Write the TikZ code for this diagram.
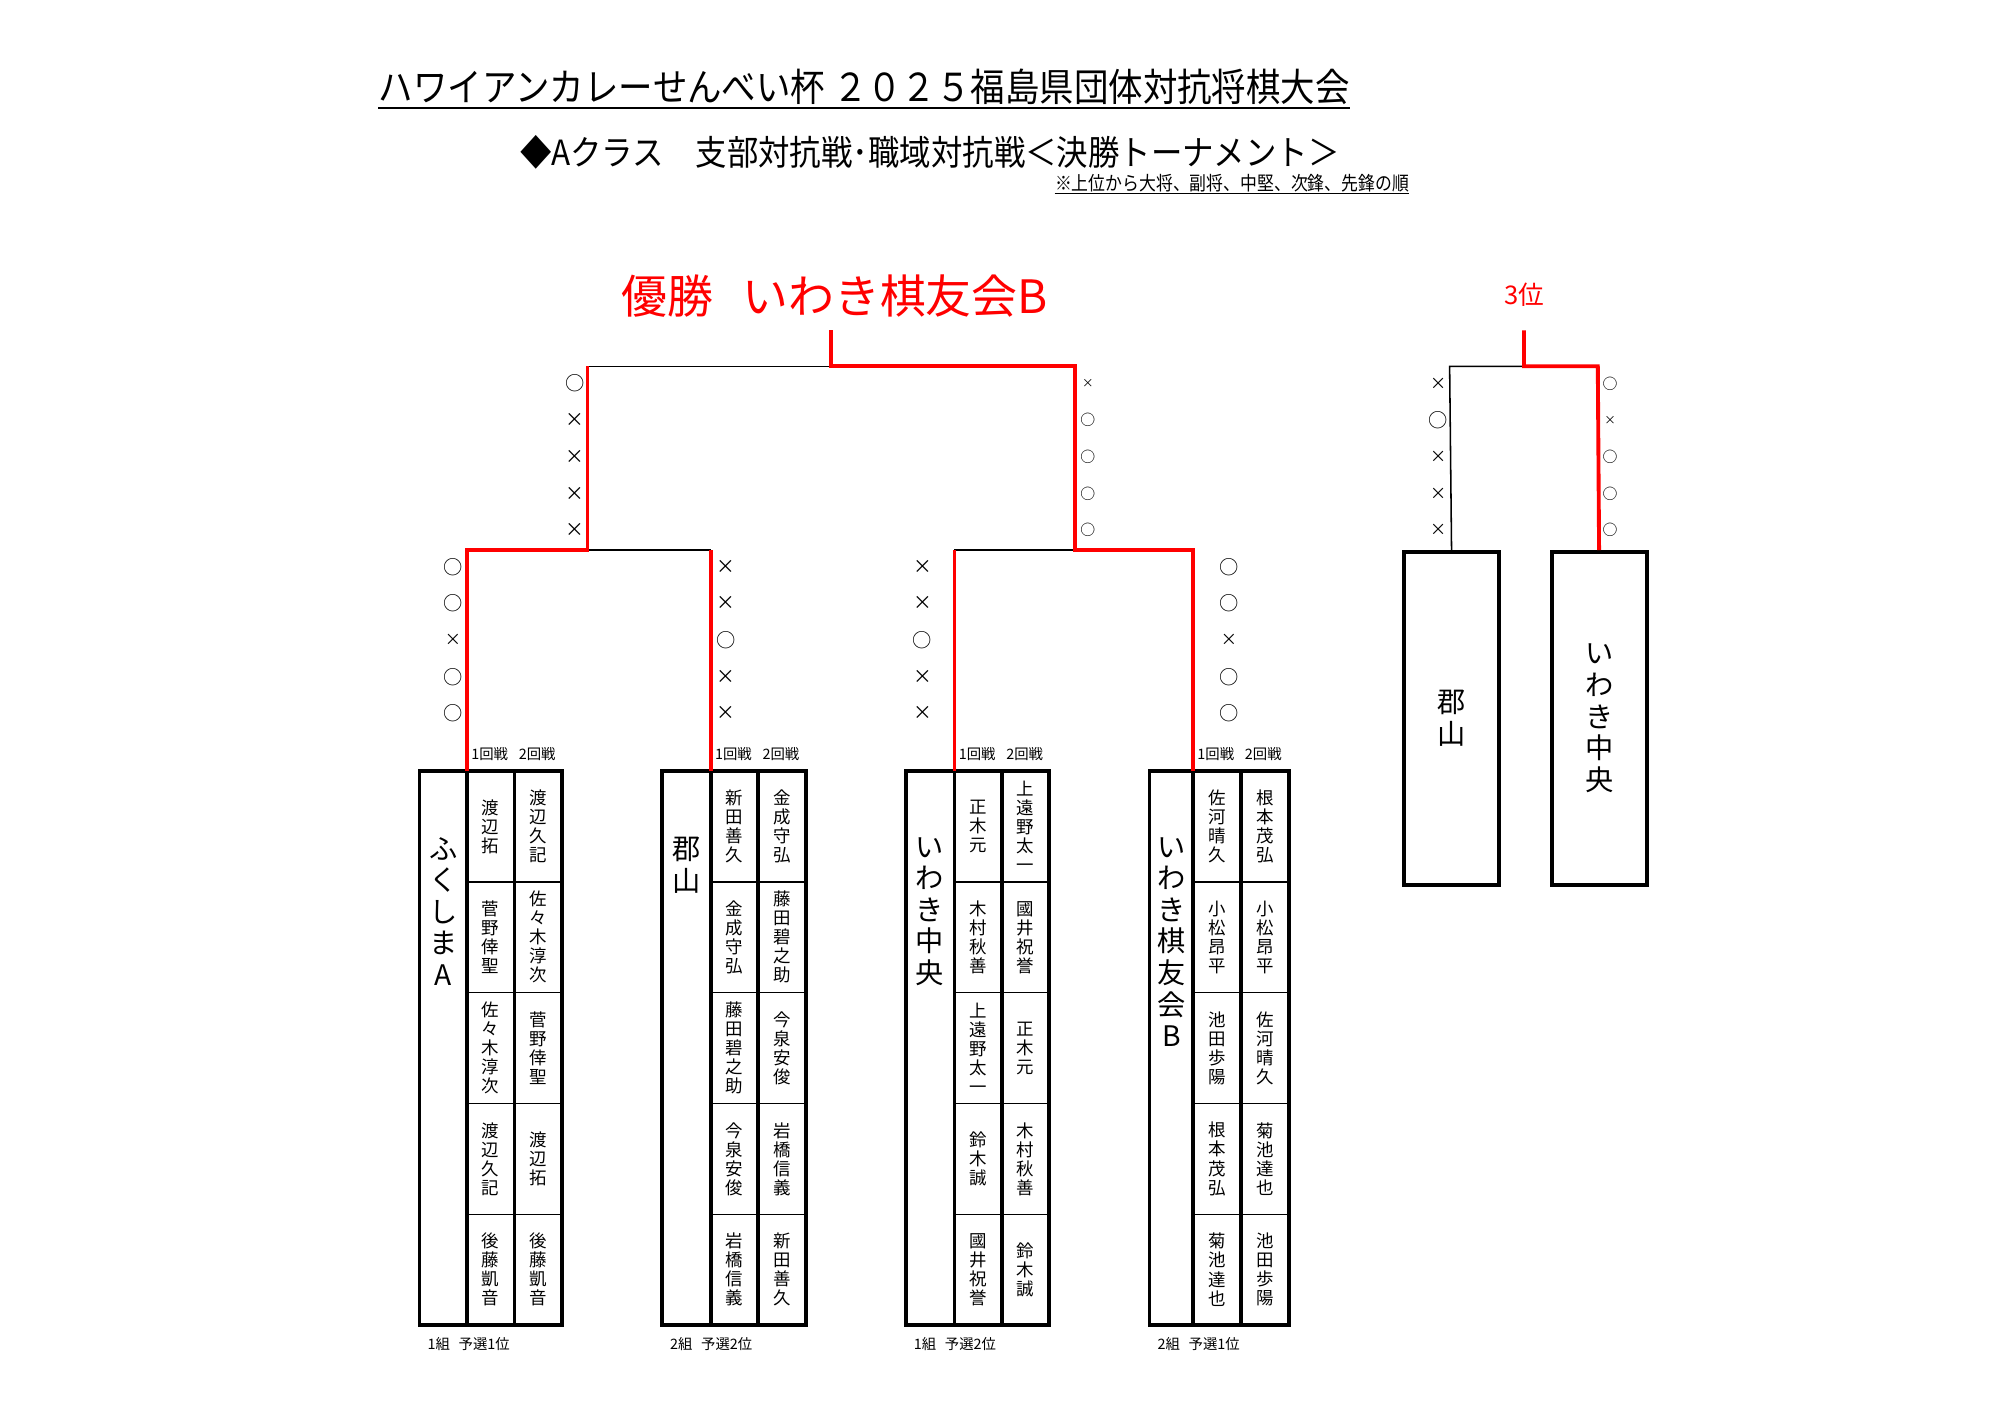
\documentclass[tikz,border=0pt]{standalone}
\usepackage{fontspec}
\setmainfont{Noto Sans CJK JP}
\newcommand\fs[2]{\fontsize{#1}{#2}\selectfont}
\begin{document}
\begin{tikzpicture}[x=0.5pt,y=-0.5pt,
  bl/.style={line width=0.6pt, black},
  rd/.style={line width=1.5pt, red},
  frame/.style={line width=1.5pt},
  rowline/.style={line width=0.5pt},
  pname/.style={align=center, inner sep=0pt, font=\fs{6.8}{7.4}},
  tname/.style={align=center, inner sep=0pt, font=\fs{11}{12.3}},
  lab/.style={inner sep=0pt, anchor=west, font=\fs{5.6}{6}},
  bo/.style={inner sep=0pt, font=\fs{7.5}{7.5}},
  so/.style={inner sep=0pt, font=\fs{5.8}{5.8}},
  nx/.style={inner sep=0pt, font=\fs{7.3}{7.3}},
  sx/.style={inner sep=0pt, font=\fs{6.3}{6.3}},
  tx/.style={inner sep=0pt, font=\fs{4.5}{4.5}},
  thbox/.style={draw, line width=1.5pt, minimum width=37pt, minimum height=129.5pt, anchor=north west, align=center, inner sep=0pt, font=\fs{11}{12.3}}
]
\useasboundingbox (0,0) rectangle (1560,1099);
\begin{scope}[xscale=0.9942, yscale=0.996, transform shape]

% ---------- headings ----------
\node[anchor=base west, inner sep=0pt, xscale=0.895, font=\fs{15}{15}] (title) at (295,79)
  {ハワイアンカレーせんべい杯 ２０２５福島県団体対抗将棋大会};
\draw[line width=0.8pt] ([yshift=-2.5pt]title.base west) -- ([yshift=-2.5pt]title.base east);
\node[anchor=base west, inner sep=0pt, xscale=0.907, font=\fs{13.5}{13.5}] (sub) at (405,129)
  {◆Aクラス　支部対抗戦･職域対抗戦＜決勝トーナメント＞};
\node[anchor=base west, inner sep=0pt, xscale=0.876, font=\fs{7.5}{7.5}] (note) at (822,148)
  {※上位から大将、副将、中堅、次鋒、先鋒の順};
\draw[line width=0.5pt] ([yshift=-1.3pt]note.base west) -- ([yshift=-1.3pt]note.base east);

\node[anchor=base west, inner sep=0pt, text=red, font=\fs{17.9}{17.9}] (champ) at (484,244)
  {優勝\hspace{0.63em}いわき棋友会B};
\node[anchor=base, inner sep=0pt, text=red, font=\fs{10}{10}] (third) at (1188,237) {3位};

% ---------- team tables ----------
\newcommand\teamgrid[4]{%
  \draw[frame] (#1,600) rectangle (#4,1031);
  \draw[frame] (#2,600) -- (#2,1031) (#3,600) -- (#3,1031);
  \foreach \yy in {686.2,772.4,858.6,944.8} \draw[rowline] (#2,\yy) -- (#4,\yy);
}
\newcommand\pl[4]{\node[pname] (#1) at (#2,{643.1+86.2*(#3-1)}) {#4};}

% ふくしまA
\teamgrid{327}{364}{401}{438}
\node[tname, anchor=north] (nA) at (345.5,651) {ふ\\く\\し\\ま\\A};
\pl{a11}{382.5}{1}{渡\\辺\\拓}
\pl{a12}{382.5}{2}{菅\\野\\倖\\聖}
\pl{a13}{382.5}{3}{佐\\々\\木\\淳\\次}
\pl{a14}{382.5}{4}{渡\\辺\\久\\記}
\pl{a15}{382.5}{5}{後\\藤\\凱\\音}
\pl{a21}{419.5}{1}{渡\\辺\\久\\記}
\pl{a22}{419.5}{2}{佐\\々\\木\\淳\\次}
\pl{a23}{419.5}{3}{菅\\野\\倖\\聖}
\pl{a24}{419.5}{4}{渡\\辺\\拓}
\pl{a25}{419.5}{5}{後\\藤\\凱\\音}
\node[lab] (rA1) at (367,587) {1回戦};
\node[lab] (rA2) at (404,587) {2回戦};
\node[lab] (qA) at (333,1046) {1組\hspace{0.6em}予選1位};

% 郡山
\teamgrid{516}{554}{591}{628}
\node[tname, anchor=north] (nK) at (535,651) {郡\\山};
\pl{k11}{572.5}{1}{新\\田\\善\\久}
\pl{k12}{572.5}{2}{金\\成\\守\\弘}
\pl{k13}{572.5}{3}{藤\\田\\碧\\之\\助}
\pl{k14}{572.5}{4}{今\\泉\\安\\俊}
\pl{k15}{572.5}{5}{岩\\橋\\信\\義}
\pl{k21}{609.5}{1}{金\\成\\守\\弘}
\pl{k22}{609.5}{2}{藤\\田\\碧\\之\\助}
\pl{k23}{609.5}{3}{今\\泉\\安\\俊}
\pl{k24}{609.5}{4}{岩\\橋\\信\\義}
\pl{k25}{609.5}{5}{新\\田\\善\\久}
\node[lab] (rK1) at (557,587) {1回戦};
\node[lab] (rK2) at (594,587) {2回戦};
\node[lab] (qK) at (522,1046) {2組\hspace{0.6em}予選2位};

% いわき中央
\teamgrid{706}{744}{781}{818}
\node[tname, anchor=north] (nC) at (725,651) {い\\わ\\き\\中\\央};
\pl{c11}{762.5}{1}{正\\木\\元}
\pl{c12}{762.5}{2}{木\\村\\秋\\善}
\pl{c13}{762.5}{3}{上\\遠\\野\\太\\一}
\pl{c14}{762.5}{4}{鈴\\木\\誠}
\pl{c15}{762.5}{5}{國\\井\\祝\\誉}
\pl{c21}{799.5}{1}{上\\遠\\野\\太\\一}
\pl{c22}{799.5}{2}{國\\井\\祝\\誉}
\pl{c23}{799.5}{3}{正\\木\\元}
\pl{c24}{799.5}{4}{木\\村\\秋\\善}
\pl{c25}{799.5}{5}{鈴\\木\\誠}
\node[lab] (rC1) at (747,587) {1回戦};
\node[lab] (rC2) at (784,587) {2回戦};
\node[lab] (qC) at (712,1046) {1組\hspace{0.6em}予選2位};

% いわき棋友会B
\teamgrid{896}{930}{967}{1005}
\node[tname, anchor=north] (nB) at (913,651) {い\\わ\\き\\棋\\友\\会\\B};
\pl{b11}{948.5}{1}{佐\\河\\晴\\久}
\pl{b12}{948.5}{2}{小\\松\\昂\\平}
\pl{b13}{948.5}{3}{池\\田\\歩\\陽}
\pl{b14}{948.5}{4}{根\\本\\茂\\弘}
\pl{b15}{948.5}{5}{菊\\池\\達\\也}
\pl{b21}{986}{1}{根\\本\\茂\\弘}
\pl{b22}{986}{2}{小\\松\\昂\\平}
\pl{b23}{986}{3}{佐\\河\\晴\\久}
\pl{b24}{986}{4}{菊\\池\\達\\也}
\pl{b25}{986}{5}{池\\田\\歩\\陽}
\node[lab] (rB1) at (933,587) {1回戦};
\node[lab] (rB2) at (970,587) {2回戦};
\node[lab] (qB) at (902,1046) {2組\hspace{0.6em}予選1位};

% ---------- main bracket ----------
\coordinate (tA) at (364,600);  \coordinate (sA) at (364,428);
\coordinate (tK) at (554,600);  \coordinate (sK) at (554,428);
\coordinate (tC) at (744,600);  \coordinate (sC) at (744,428);
\coordinate (tB) at (930,600);  \coordinate (sB) at (930,428);
\coordinate (fL) at (458,428);  \coordinate (fLt) at (458,285);
\coordinate (fR) at (838,428);  \coordinate (fRt) at (838,285);
\coordinate (win) at (648,285); \coordinate (wtop) at (648,257);

\draw[bl] (fL) -- (sK);
\draw[bl] (sC) -- (fR);
\draw[bl] (fLt) -- (win);
\draw[rd] (tK) -- (sK);
\draw[rd] (tC) -- (sC);
\draw[rd] (tA) -- (sA) -- (fL) -- (fLt);
\draw[rd] (wtop) -- (win) -- (fRt) -- (fR) -- (sB) -- (tB);

% ---------- third place ----------
\node[thbox] (thK) at (1093,428) {郡\\山};
\node[thbox] (thC) at (1208,428) {い\\わ\\き\\中\\央};
\coordinate (g1t) at (1130,285);
\coordinate (g2t) at (1245.5,285);
\coordinate (tw) at (1188,285);
\coordinate (twt) at (1188,257);
\draw[bl] (thK.north) -- (g1t) -- (tw);
\draw[rd] (twt) -- (tw) -- (g2t) -- (thC.north);

% ---------- marks ----------
\newcommand\markcol[4]{%
  \foreach \s/\c [count=\i] in {#4}
    \node[\s] (#1\i) at (#2,{#3+28.5*(\i-1)}) {\c};
}
\markcol{mFL}{448}{298.5}{bo/○,nx/×,nx/×,nx/×,nx/×}
\markcol{mFR}{848}{298.5}{tx/×,so/○,so/○,so/○,so/○}
\markcol{mSA}{353}{441}{bo/○,bo/○,sx/×,bo/○,bo/○}
\markcol{mSK}{566}{441}{nx/×,nx/×,bo/○,nx/×,nx/×}
\markcol{mSC}{719}{441}{nx/×,nx/×,bo/○,nx/×,nx/×}
\markcol{mSB}{958}{441}{bo/○,bo/○,sx/×,bo/○,bo/○}
\markcol{mTL}{1121}{298.5}{sx/×,bo/○,sx/×,sx/×,sx/×}
\markcol{mTR}{1255}{298.5}{so/○,tx/×,so/○,so/○,so/○}
\end{scope}
\end{tikzpicture}
\end{document}
